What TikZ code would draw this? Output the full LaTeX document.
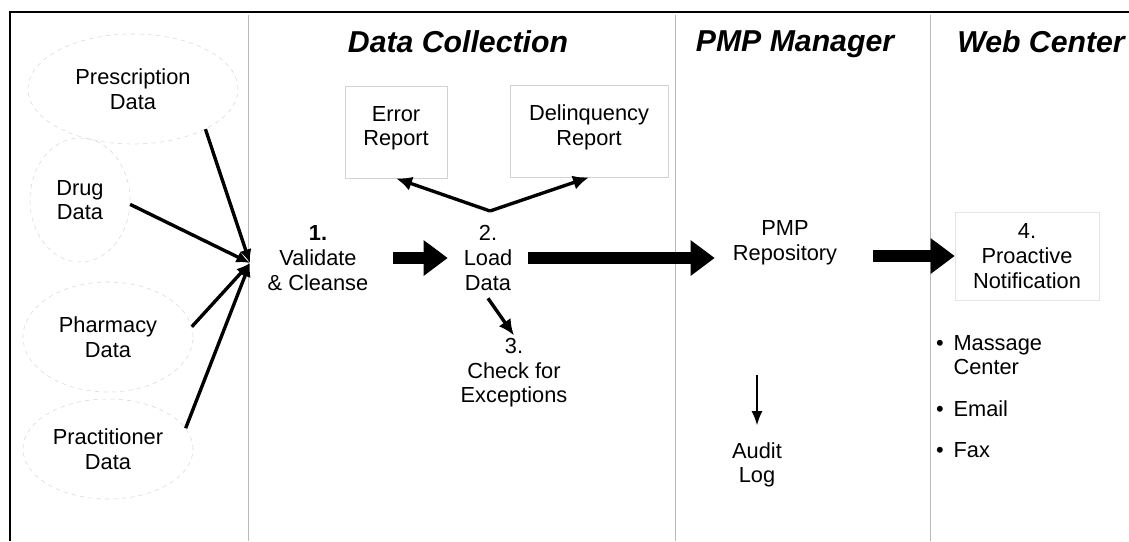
\documentclass[tikz,border=0pt]{standalone}
\usepackage{fontspec}
\setmainfont{Liberation Sans}
\usetikzlibrary{arrows.meta, positioning, calc, shapes.geometric}

\begin{document}
\begin{tikzpicture}[
  x=0.025cm, y=-0.025cm,
  every node/.style = {font=\fontsize{15.5}{17.5}\selectfont, align=center, inner sep=2pt},
  heading/.style = {font=\fontsize{21.5}{23}\selectfont\bfseries\itshape},
  source/.style = {ellipse, draw=gray!30, dashed, inner sep=0pt},
  report/.style = {draw=gray!35, minimum height=2.3cm},
  stepnode/.style = {minimum height=2cm},
  lane/.style = {gray!55, line width=0.6pt},
  feed/.style = {line width=2.4pt, -{Latex[length=3.4mm, width=3mm]}},
  arrow/.style = {line width=2.4pt, -{Latex[length=4mm, width=3.6mm]}},
  thinarrow/.style = {line width=1.5pt, -{Latex[length=3.6mm, width=2.8mm]}},
  bigarrow/.style = {line width=0.3cm, -{Triangle[length=0.6cm, width=0.85cm]}}
]
\useasboundingbox (0,0) rectangle (1129,541);

% frame and lanes
\draw[line width=1.6pt] (10,541) -- (10,12) -- (1129,12);
\foreach \x in {248,675,930}
  \draw[lane] (\x,15) -- (\x,541);

% lane titles
\node[heading] (tcoll) at (458,42) {Data Collection};
\node[heading] (tmgr) at (795,44) {PMP Manager};
\node[heading] (tweb) at (1041,42) {Web Center};

% data sources
\node[source, minimum width=5.25cm, minimum height=2.75cm] (presc) at (133,89) {Prescription\\Data};
\node[source, minimum width=2.5cm, minimum height=3.1cm] (drug) at (80,200) {Drug\\Data};
\node[source, minimum width=4.25cm, minimum height=2.75cm] (pharm) at (108,337) {Pharmacy\\Data};
\node[source, minimum width=4.25cm, minimum height=2.5cm] (pract) at (108,449) {Practitioner\\Data};

\coordinate (hub) at (250,263);
\draw[feed] (presc.-29) -- (hub);
\draw[feed] (drug.-5) -- (hub);
\draw[feed] (pharm.7) -- (hub);
\draw[feed] (pract.15) -- (hub);

% data collection
\node[stepnode, minimum width=3.75cm] (valid) at (318,258) {{\bfseries 1.}\\Validate\\\& Cleanse};
\node[stepnode, minimum width=2cm] (load) at (488,258) {2.\\Load\\Data};
\node[report, minimum width=2.55cm] (err) at (396,132) {Error\\Report\\[-9pt]};
\node[report, minimum width=3.95cm] (delin) at (589,131) {Delinquency\\Report\\[-9pt]};
\node (check) at (514,373) {3.\\Check for\\Exceptions};

\coordinate (split) at (490,211);
\draw[arrow] (split) -- (err.south);
\draw[arrow] (split) -- (delin.south);
\draw[arrow] (load.south) -- (check.north);
\draw[bigarrow] (valid) -- (load);

% PMP manager
\node[minimum width=3.5cm] (repo) at (785,243) {PMP\\Repository};
\node (audit) at (757,465) {Audit\\Log};
\coordinate (logsrc) at (757,375);
\draw[bigarrow] (load.east) -- (load.east -| repo.west);
\draw[thinarrow, shorten >=0.35cm] (logsrc) -- (audit.north);

% web center
\node[draw=gray!20, minimum width=3.6cm, minimum height=2.2cm] (notif) at (1027,256) {4.\\Proactive\\Notification};
\draw[bigarrow, shorten <=0.45cm] (repo.east |- notif.west) -- (notif.west);
\node[anchor=north west, align=left] (media) at (933,330) {%
  \begin{tabular}{@{}l@{\hspace{7pt}}l@{}}
    \textbullet & Massage\\
                & Center\\[12pt]
    \textbullet & Email\\[12pt]
    \textbullet & Fax
  \end{tabular}};

\end{tikzpicture}
\end{document}
